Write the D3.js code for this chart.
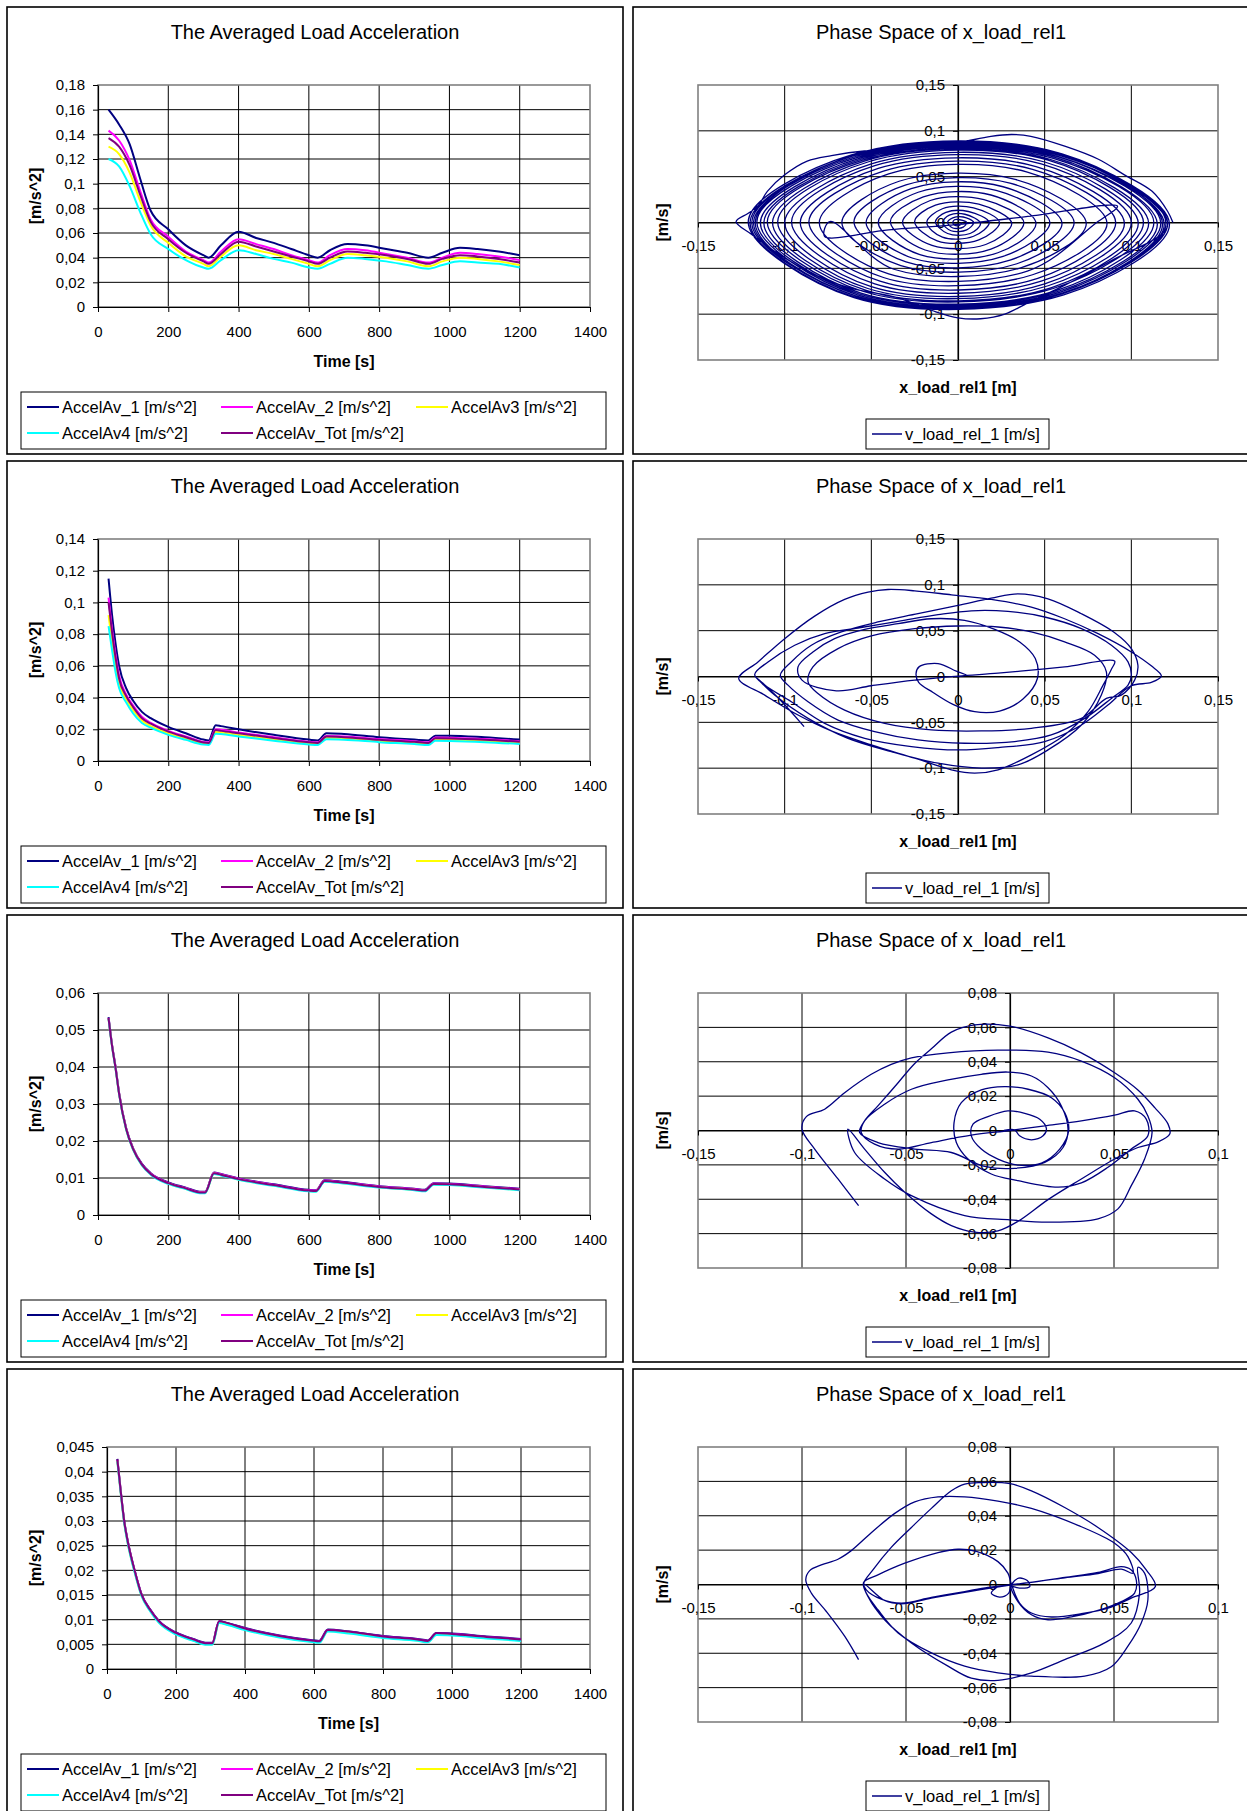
<!DOCTYPE html>
<meta charset="utf-8">
<script src="https://d3js.org/d3.v7.min.js"></script>
<style>
  body { margin: 0; background: #fff; }
  text { font-family: "Liberation Sans", Arial, sans-serif; fill: #000; }
</style>

<div id="my_dataviz"></div>
<script>

  // ---------- acceleration charts: names, colours, ticks ----------
  var seriesNames = ["AccelAv_1 [m/s^2]", "AccelAv_2 [m/s^2]", "AccelAv3 [m/s^2]", "AccelAv4 [m/s^2]", "AccelAv_Tot [m/s^2]"];
  var seriesColors = ["#000080", "#ff00ff", "#ffff00", "#00ffff", "#800080"];
  var timeTicks = [0, 200, 400, 600, 800, 1000, 1200, 1400];

  // chart 1
  var yTicks1 = [0, 0.02, 0.04, 0.06, 0.08, 0.1, 0.12, 0.14, 0.16, 0.18];
  var time1 = [30, 60, 90, 120, 150, 200, 250, 300, 315, 350, 400, 450, 500, 550, 600, 625, 660, 710, 760, 820, 880, 940, 980, 1030, 1080, 1140, 1200];
  var acc1_1 = [0.160, 0.148, 0.132, 0.104, 0.078, 0.063, 0.050, 0.042, 0.040, 0.050, 0.061, 0.056, 0.052, 0.047, 0.042, 0.040, 0.046, 0.051, 0.050, 0.047, 0.044, 0.040, 0.044, 0.048, 0.047, 0.045, 0.042];
  var acc1_2 = [0.143, 0.135, 0.119, 0.094, 0.071, 0.057, 0.045, 0.038, 0.036, 0.045, 0.055, 0.051, 0.047, 0.042, 0.038, 0.036, 0.042, 0.047, 0.046, 0.043, 0.040, 0.036, 0.040, 0.044, 0.043, 0.041, 0.038];
  var acc1_3 = [0.130, 0.124, 0.109, 0.086, 0.066, 0.052, 0.041, 0.035, 0.033, 0.041, 0.050, 0.046, 0.043, 0.039, 0.035, 0.033, 0.038, 0.043, 0.042, 0.040, 0.037, 0.033, 0.037, 0.040, 0.039, 0.037, 0.034];
  var acc1_4 = [0.120, 0.114, 0.098, 0.077, 0.059, 0.047, 0.038, 0.032, 0.031, 0.038, 0.046, 0.043, 0.039, 0.036, 0.032, 0.031, 0.035, 0.040, 0.039, 0.037, 0.034, 0.031, 0.034, 0.037, 0.036, 0.035, 0.032];
  var acc1_tot = [0.137, 0.130, 0.115, 0.091, 0.069, 0.055, 0.044, 0.037, 0.035, 0.043, 0.053, 0.049, 0.045, 0.041, 0.037, 0.035, 0.040, 0.045, 0.044, 0.042, 0.039, 0.035, 0.039, 0.042, 0.041, 0.039, 0.036];

  // chart 2
  var yTicks2 = [0, 0.02, 0.04, 0.06, 0.08, 0.1, 0.12, 0.14];
  var time2 = [30, 40, 50, 60, 80, 100, 125, 150, 200, 250, 300, 315, 335, 350, 400, 500, 600, 625, 650, 700, 800, 900, 940, 960, 1000, 1100, 1200];
  var acc2_1 = [0.115, 0.092, 0.074, 0.060, 0.046, 0.038, 0.031, 0.027, 0.0215, 0.0175, 0.0135, 0.013, 0.0225, 0.022, 0.020, 0.0165, 0.0135, 0.013, 0.0175, 0.017, 0.015, 0.0135, 0.013, 0.016, 0.016, 0.015, 0.0135];
  var acc2_2 = [0.103, 0.083, 0.067, 0.054, 0.042, 0.035, 0.028, 0.024, 0.019, 0.0155, 0.012, 0.0118, 0.020, 0.0197, 0.018, 0.015, 0.0122, 0.0118, 0.0158, 0.0155, 0.0138, 0.0125, 0.0118, 0.0148, 0.0147, 0.0138, 0.0125];
  var acc2_3 = [0.092, 0.075, 0.060, 0.049, 0.039, 0.032, 0.0255, 0.022, 0.0175, 0.014, 0.011, 0.0107, 0.0183, 0.018, 0.0165, 0.0136, 0.0111, 0.0107, 0.0145, 0.0142, 0.0126, 0.0114, 0.0107, 0.0135, 0.0134, 0.0126, 0.0114];
  var acc2_4 = [0.085, 0.070, 0.056, 0.046, 0.037, 0.030, 0.024, 0.021, 0.0165, 0.0133, 0.0104, 0.0101, 0.0172, 0.017, 0.0155, 0.0128, 0.0104, 0.0101, 0.0137, 0.0134, 0.0119, 0.0107, 0.0101, 0.0127, 0.0126, 0.0119, 0.0107];
  var acc2_tot = [0.100, 0.081, 0.065, 0.052, 0.041, 0.034, 0.027, 0.0235, 0.0185, 0.015, 0.0117, 0.0114, 0.0195, 0.019, 0.0175, 0.0145, 0.0118, 0.0114, 0.0154, 0.015, 0.0134, 0.0121, 0.0114, 0.0143, 0.0142, 0.0134, 0.0121];

  // chart 3
  var yTicks3 = [0, 0.01, 0.02, 0.03, 0.04, 0.05, 0.06];
  var time3 = [30, 40, 50, 60, 80, 100, 125, 150, 200, 250, 290, 305, 330, 350, 400, 500, 600, 620, 645, 700, 800, 900, 930, 955, 1000, 1100, 1200];
  var acc3_1 = [0.0535, 0.046, 0.040, 0.033, 0.0235, 0.018, 0.0138, 0.0113, 0.0088, 0.0074, 0.0063, 0.0063, 0.0115, 0.0111, 0.0099, 0.0083, 0.0068, 0.0067, 0.0094, 0.0089, 0.0078, 0.0071, 0.0068, 0.0086, 0.0085, 0.0078, 0.0071];
  var acc3_2 = [0.0533, 0.0458, 0.0398, 0.0329, 0.0234, 0.0179, 0.0137, 0.0112, 0.0087, 0.0073, 0.0062, 0.0062, 0.0114, 0.011, 0.0098, 0.0082, 0.0067, 0.0066, 0.0093, 0.0088, 0.0077, 0.007, 0.0067, 0.0085, 0.0084, 0.0077, 0.007];
  var acc3_3 = [0.0531, 0.0456, 0.0396, 0.0327, 0.0232, 0.0177, 0.0135, 0.011, 0.0085, 0.0071, 0.006, 0.006, 0.0112, 0.0108, 0.0096, 0.008, 0.0065, 0.0064, 0.0091, 0.0086, 0.0075, 0.0068, 0.0065, 0.0083, 0.0082, 0.0075, 0.0068];
  var acc3_4 = [0.053, 0.0455, 0.0395, 0.0326, 0.0231, 0.0176, 0.0134, 0.0109, 0.0084, 0.007, 0.0059, 0.0059, 0.0111, 0.0107, 0.0095, 0.0079, 0.0064, 0.0063, 0.009, 0.0085, 0.0074, 0.0067, 0.0064, 0.0082, 0.0081, 0.0074, 0.0067];
  var acc3_tot = [0.0532, 0.0457, 0.0397, 0.0328, 0.0233, 0.0178, 0.0136, 0.0111, 0.0086, 0.0072, 0.0061, 0.0061, 0.0113, 0.0109, 0.0097, 0.0081, 0.0066, 0.0065, 0.0092, 0.0087, 0.0076, 0.0069, 0.0066, 0.0084, 0.0083, 0.0076, 0.0069];

  // chart 4
  var yTicks4 = [0, 0.005, 0.01, 0.015, 0.02, 0.025, 0.03, 0.035, 0.04, 0.045];
  var time4 = [30, 40, 50, 60, 80, 100, 125, 150, 200, 250, 290, 305, 325, 350, 400, 500, 600, 615, 640, 700, 800, 900, 930, 955, 1000, 1100, 1200];
  var acc4_1 = [0.0426, 0.036, 0.030, 0.026, 0.020, 0.0152, 0.0121, 0.0098, 0.0074, 0.0061, 0.0053, 0.0053, 0.0097, 0.0093, 0.0083, 0.0068, 0.0058, 0.0057, 0.008, 0.0076, 0.0067, 0.0061, 0.0058, 0.0073, 0.0072, 0.0066, 0.0061];
  var acc4_2 = [0.0424, 0.0358, 0.0298, 0.0258, 0.0199, 0.0151, 0.012, 0.0097, 0.0073, 0.006, 0.0052, 0.0052, 0.0096, 0.0092, 0.0082, 0.0067, 0.0057, 0.0056, 0.0079, 0.0075, 0.0066, 0.006, 0.0057, 0.0072, 0.0071, 0.0065, 0.006];
  var acc4_3 = [0.0422, 0.0356, 0.0296, 0.0256, 0.0197, 0.0149, 0.0118, 0.0095, 0.0071, 0.0058, 0.005, 0.005, 0.0094, 0.009, 0.008, 0.0065, 0.0055, 0.0054, 0.0077, 0.0073, 0.0064, 0.0058, 0.0055, 0.007, 0.0069, 0.0063, 0.0058];
  var acc4_4 = [0.0421, 0.0355, 0.0295, 0.0255, 0.0196, 0.0148, 0.0117, 0.0094, 0.007, 0.0057, 0.0049, 0.0049, 0.0093, 0.0089, 0.0079, 0.0064, 0.0054, 0.0053, 0.0076, 0.0072, 0.0063, 0.0057, 0.0054, 0.0069, 0.0068, 0.0062, 0.0057];
  var acc4_tot = [0.0425, 0.0359, 0.0299, 0.0259, 0.02, 0.0151, 0.012, 0.0097, 0.0073, 0.006, 0.0052, 0.0052, 0.0097, 0.0093, 0.0082, 0.0067, 0.0057, 0.0056, 0.0079, 0.0076, 0.0066, 0.006, 0.0057, 0.0073, 0.0071, 0.0065, 0.006];

  // ---------- phase space charts: [x_load_rel1, v_load_rel_1] ----------
  var phaseTicksWide = [-0.15, -0.1, -0.05, 0, 0.05, 0.1, 0.15];
  var phaseXTicksNarrow = [-0.15, -0.1, -0.05, 0, 0.05, 0.1];
  var phaseYTicksNarrow = [-0.08, -0.06, -0.04, -0.02, 0, 0.02, 0.04, 0.06, 0.08];

  var phase1 = [
    [0.002,0],[0.001,-0.003],[-0.002,-0.003],[-0.003,0],[-0.002,0.003],[0.001,0.003],
    [0.005,0],[0.003,-0.005],[-0.003,-0.006],[-0.006,0],[-0.003,0.005],[0.003,0.006],
    [0.009,0],[0.005,-0.008],[-0.004,-0.009],[-0.009,0],[-0.005,0.008],[0.004,0.009],
    [0.013,-0.001],[0.007,-0.012],[-0.006,-0.012],[-0.013,0.001],[-0.007,0.011],[0.006,0.012],
    [0.018,0],[0.009,-0.015],[-0.009,-0.016],[-0.018,0],[-0.009,0.015],[0.009,0.016],
    [0.024,0],[0.012,-0.019],[-0.012,-0.02],[-0.025,0.001],[-0.013,0.019],[0.012,0.02],
    [0.031,-0.001],[0.016,-0.024],[-0.015,-0.025],[-0.032,0],[-0.016,0.024],[0.015,0.025],
    [0.038,0],[0.019,-0.029],[-0.019,-0.03],[-0.039,0.001],[-0.02,0.028],[0.019,0.03],
    [0.045,-0.001],[0.023,-0.033],[-0.022,-0.035],[-0.046,0],[-0.023,0.033],[0.022,0.035],
    [0.053,0],[0.026,-0.037],[-0.026,-0.039],[-0.053,0],[-0.027,0.037],[0.026,0.039],
    [0.06,-0.001],[0.03,-0.041],[-0.03,-0.043],[-0.06,0.001],[-0.03,0.041],[0.03,0.043],
    [0.067,0],[0.034,-0.045],[-0.033,-0.047],[-0.067,0],[-0.034,0.045],[0.033,0.047],
    [0.074,-0.001],[0.037,-0.049],[-0.037,-0.051],[-0.074,0.001],
    [-0.077,-0.015],[-0.04,-0.008],[0,-0.002],[0.042,0.007],[0.092,0.018],
    [0.08,0],[0.04,-0.053],[-0.04,-0.056],[-0.08,0],[-0.04,0.053],[0.04,0.055],
    [0.086,-0.001],[0.043,-0.057],[-0.043,-0.06],[-0.086,0.001],[-0.043,0.056],[0.043,0.058],
    [0.091,0],[0.046,-0.061],[-0.045,-0.064],[-0.091,0],[-0.046,0.059],[0.045,0.061],
    [0.096,-0.001],[0.048,-0.064],[-0.048,-0.067],[-0.096,0.001],[-0.048,0.062],[0.048,0.064],
    [0.1,0],[0.05,-0.067],[-0.05,-0.07],[-0.1,0],[-0.05,0.064],[0.05,0.066],
    [0.104,-0.001],[0.052,-0.069],[-0.052,-0.072],[-0.104,0.001],[-0.052,0.066],[0.052,0.068],
    [0.107,0],[0.054,-0.071],[-0.053,-0.074],[-0.107,0],[-0.054,0.067],[0.053,0.069],
    [0.11,-0.001],[0.055,-0.072],[-0.055,-0.075],[-0.11,0.001],[-0.055,0.068],[0.055,0.07],
    [0.113,0],[0.057,-0.074],[-0.056,-0.077],[-0.112,0],[-0.056,0.069],[0.056,0.071],
    [0.115,-0.002],[0.058,-0.075],[-0.057,-0.078],[-0.114,0],[-0.057,0.07],[0.057,0.072],
    [0.117,-0.001],[0.059,-0.076],[-0.058,-0.079],[-0.116,0.001],[-0.058,0.071],[0.058,0.072],
    [0.119,-0.002],[0.06,-0.077],[-0.059,-0.08],[-0.118,0],[-0.059,0.072],[0.059,0.073],
    [0.121,-0.001],[0.06,-0.078],[-0.06,-0.081],[-0.12,0],[-0.06,0.073],[0.06,0.074],
    [0.122,-0.002],[0.061,-0.079],[-0.06,-0.082],[-0.121,0.001],[-0.061,0.074],[0.06,0.075],
    [0.12,-0.001],[0.06,-0.077],[-0.059,-0.08],[-0.119,0],[-0.06,0.073],[0.059,0.074],
    [0.118,-0.002],[0.059,-0.078],[-0.058,-0.081],[-0.117,0],[-0.058,0.075],[0.058,0.076],
    [0.121,-0.002],[0.088,-0.042],[0.062,-0.068],[0.042,-0.086],[0.027,-0.1],[0.013,-0.105],
    [0,-0.104],[-0.015,-0.096],[-0.035,-0.082],[-0.063,-0.071],[-0.087,-0.053],[-0.106,-0.031],
    [-0.119,-0.013],[-0.128,0.001],[-0.121,0.01],[-0.115,0.019],[-0.11,0.034],[-0.1,0.052],
    [-0.087,0.067],[-0.073,0.073],[-0.054,0.078],[-0.027,0.08],[0,0.087],[0.019,0.094],
    [0.031,0.096],[0.042,0.094],[0.062,0.083],[0.081,0.069],[0.096,0.052],[0.112,0.034],
    [0.121,0.012],[0.124,0]
  ];

  var phase2 = [
    [0,0],[0.0048,0.0014],[-0.001,0.0058],[-0.0115,0.0141],[-0.0225,0.0105],[-0.0242,0.0033],
    [-0.0227,-0.0065],[-0.0144,-0.0174],[-0.0029,-0.0304],[0.0096,-0.0384],[0.024,-0.0377],[0.0375,-0.0246],
    [0.0458,-0.0022],[0.0446,0.0196],[0.0356,0.0377],[0.0212,0.0514],[0.0038,0.0612],[-0.0154,0.063],
    [-0.0346,0.0576],[-0.0538,0.0514],[-0.0712,0.0413],[-0.0837,0.0268],[-0.0923,0.0105],[-0.09,-0.004],
    [-0.0702,-0.0156],[-0.05,-0.0101],[-0.025,-0.004],[0,0.0004],[0.0231,0.0036],[0.0423,0.0069],
    [0.0615,0.0105],[0.0904,0.0167],[0.0885,0.008],[0.0837,-0.0094],[0.075,-0.0384],[0.0615,-0.0638],
    [0.0423,-0.0855],[0.0231,-0.1018],[0.0096,-0.1054],[-0.0038,-0.1018],[-0.025,-0.0891],[-0.05,-0.0746],
    [-0.0731,-0.0594],[-0.0923,-0.042],[-0.1115,-0.0203],[-0.1265,-0.0022],[-0.1154,0.0159],[-0.1,0.0413],
    [-0.0827,0.0659],[-0.0654,0.0841],[-0.0519,0.092],[-0.0404,0.0949],[-0.025,0.0935],[-0.0038,0.0891],
    [0.0192,0.0841],[0.0423,0.0757],[0.0615,0.063],[0.0808,0.0467],[0.1,0.0268],[0.1115,0.0116],
    [0.1173,0.0007],[0.1115,-0.0065],[0.1,-0.0101],[0.0865,-0.0312],[0.0712,-0.0529],[0.05,-0.071],
    [0.0231,-0.0775],[0,-0.0801],[-0.0269,-0.0764],[-0.0538,-0.0674],[-0.0769,-0.0511],[-0.0962,-0.0275],
    [-0.1115,-0.0094],[-0.1173,0.0022],[-0.1096,0.0159],[-0.0942,0.0341],[-0.0769,0.0467],[-0.0577,0.0529],
    [-0.0346,0.0601],[-0.0115,0.0674],[0.0077,0.0717],[0.0288,0.071],[0.05,0.0649],[0.0712,0.0522],
    [0.0885,0.0341],[0.0981,0.0159],[0.1,0.0014],[0.0981,-0.0094],[0.0885,-0.0239],[0.0731,-0.0457],
    [0.0538,-0.0638],[0.0327,-0.071],[0.0038,-0.0728],[-0.0231,-0.0692],[-0.0481,-0.0601],[-0.0692,-0.0475],
    [-0.0865,-0.0275],[-0.0981,-0.0094],[-0.1025,0.0014],[-0.0962,0.0159],[-0.0846,0.0341],[-0.0673,0.0486],
    [-0.0462,0.0595],[-0.0231,0.0685],[0,0.0775],[0.0192,0.0855],[0.0346,0.0902],[0.0519,0.0848],
    [0.0712,0.0685],[0.0904,0.0478],[0.1,0.0304],[0.1038,0.0123],[0.1019,-0.004],[0.0942,-0.0203],
    [0.0856,-0.0239],[0.0712,-0.0457],[0.0423,-0.0565],[0.0135,-0.0594],[-0.0154,-0.0583],[-0.0423,-0.0511],
    [-0.0654,-0.0366],[-0.0808,-0.0185],[-0.0865,-0.0058],[-0.0837,0.0105],[-0.0692,0.0304],[-0.05,0.0442],
    [-0.025,0.0522],[0,0.0551],[0.0231,0.054],[0.0423,0.0486],[0.0615,0.0377],[0.0788,0.0232],
    [0.0856,0.0051],[0.0827,-0.0203],[0.0712,-0.0529],[0.0519,-0.0801],[0.0346,-0.0964],[0.0135,-0.1],
    [-0.0115,-0.0946],[-0.0385,-0.0819],[-0.0635,-0.0674],[-0.0865,-0.0457],[-0.1058,-0.0203],[-0.1173,0.0007],
    [-0.1038,-0.0232],[-0.0888,-0.0547]
  ];

  var phase3 = [
    [-0.0029,0],[0.0022,0.0004],[0.0046,-0.0031],[0.0103,-0.0054],[0.0159,-0.0031],[0.0175,0.0012],
    [0.0143,0.0066],[0.0071,0.01],[-0.001,0.0114],[-0.0106,0.0081],[-0.0178,0.0037],[-0.0186,-0.0031],
    [-0.0138,-0.0108],[-0.0058,-0.0166],[0.0038,-0.0201],[0.0151,-0.0189],[0.0239,-0.0108],[0.0282,-0.0002],
    [0.0263,0.0104],[0.0199,0.0191],[0.0087,0.024],[-0.0026,0.0255],[-0.0138,0.0236],[-0.0234,0.0162],
    [-0.0269,0.0046],[-0.0258,-0.007],[-0.0202,-0.0166],[-0.009,-0.0253],[0.0038,-0.0292],[0.0231,-0.033],
    [0.0343,-0.0305],[0.0471,-0.0214],[0.0583,-0.0108],[0.0663,-0.0031],[0.0655,0.0066],[0.0599,0.0114],
    [0.0503,0.0089],[0.0343,0.0056],[0.0167,0.0027],[0,0],[-0.0186,-0.0027],[-0.0378,-0.007],
    [-0.0538,-0.0108],[-0.0651,-0.0079],[-0.0715,-0.0012],[-0.0699,0.0056],[-0.0603,0.0153],[-0.0474,0.024],
    [-0.0298,0.0294],[-0.0138,0.0327],[-0.001,0.034],[0.0103,0.0317],[0.0183,0.0249],[0.0247,0.0143],
    [0.0279,0.0008],[0.0255,-0.0099],[0.0167,-0.0186],[0.0022,-0.022],[-0.0122,-0.0209],[-0.0282,-0.0128],
    [-0.0458,-0.0108],[-0.0635,-0.007],[-0.0723,-0.0012],
    [-0.0699,0.0056],[-0.0635,0.0143],[-0.0538,0.0278],[-0.0458,0.039],[-0.0378,0.0475],[-0.0282,0.0572],
    [-0.017,0.0614],[0,0.0607],[0.0183,0.0539],[0.0343,0.0452],[0.0503,0.0336],[0.0615,0.0236],
    [0.0696,0.0133],[0.076,0.0037],[0.0768,-0.0021],[0.0712,-0.0066],[0.0615,-0.0099],[0.0503,-0.0166],
    [0.0343,-0.0282],[0.0183,-0.0402],[0.0038,-0.0529],[-0.0058,-0.0584],[-0.017,-0.0591],[-0.0282,-0.0553],
    [-0.0378,-0.0485],[-0.0506,-0.0359],[-0.0603,-0.0243],[-0.0699,-0.0108],[-0.0779,0.0008],
    [-0.0747,-0.0128],[-0.0603,-0.0282],[-0.0474,-0.0379],[-0.0218,-0.0495],[0,-0.052],[0.0183,-0.0533],
    [0.0423,-0.0514],[0.0519,-0.0456],[0.0583,-0.0321],[0.0647,-0.0166],[0.0683,-0.0012],[0.0663,0.0085],
    [0.0615,0.0182],[0.0503,0.0307],[0.0343,0.0404],[0.0183,0.0456],[-0.0058,0.0468],[-0.0298,0.0452],
    [-0.0474,0.0423],[-0.0571,0.0385],[-0.0667,0.0327],[-0.0795,0.022],[-0.0891,0.0124],[-0.0979,0.0081],
    [-0.1,0.0008],[-0.0939,-0.0108],[-0.0827,-0.0282],[-0.0728,-0.0437]
  ];

  var phase4 = [
    [-0.0058,-0.0012],[-0.009,-0.005],[-0.005,-0.0073],[-0.0006,-0.005],[0.0006,-0.0002],[0.0042,0.0037],
    [0.0083,0.0023],[0.0095,-0.0012],[0.0046,-0.0021],[0.0006,-0.0012],[0.0038,-0.0099],[0.0103,-0.0176],
    [0.0183,-0.0205],[0.0295,-0.0189],[0.0423,-0.0151],[0.0535,-0.0099],[0.0599,-0.005],[0.0607,0.0027],
    [0.0583,0.0085],[0.0535,0.0104],[0.0423,0.007],[0.0263,0.0041],[0.0103,0.0012],[0,-0.0002],
    [-0.0106,-0.0017],[-0.0218,-0.0041],[-0.0378,-0.0075],[-0.0522,-0.0108],[-0.0619,-0.0085],[-0.0691,-0.0031],
    [-0.0704,0.0012],[-0.0635,0.0056],[-0.0506,0.0124],[-0.0346,0.0186],[-0.025,0.0205],[-0.0162,0.0193],
    [-0.0058,0.0133],[-0.001,0.0066],[0.0006,0.0004],[0.0046,-0.0108],[0.0103,-0.0166],[0.0199,-0.0189],
    [0.0343,-0.017],[0.0487,-0.0131],[0.0583,-0.0079],[0.0699,-0.0012],[0.0655,0.0085],[0.0583,0.0186],
    [0.0423,0.0332],[0.0263,0.0448],[0.0103,0.0545],[0,0.0587],[-0.0138,0.0593],[-0.0218,0.0584],
    [-0.0282,0.0545],[-0.0378,0.0443],[-0.0474,0.0332],[-0.0571,0.0216],[-0.0659,0.0085],[-0.0704,0.0004],
    [-0.0691,-0.005],[-0.0635,-0.0147],[-0.0538,-0.0282],[-0.0378,-0.0398],[-0.0218,-0.0475],[-0.0058,-0.0514],
    [0.0103,-0.0533],[0.0359,-0.0533],[0.0487,-0.0479],[0.0567,-0.0359],[0.0631,-0.0224],[0.0663,-0.0089],
    [0.0647,0.0066],[0.0615,0.01],[0.0623,-0.005],[0.0583,-0.0224],[0.0455,-0.034],[0.0263,-0.0437],
    [0.0103,-0.0514],[-0.0058,-0.0558],[-0.0186,-0.0545],[-0.0298,-0.0475],[-0.0474,-0.034],[-0.0603,-0.0205],
    [-0.0683,-0.007],[-0.0704,0.0004],[-0.0603,-0.0093],[-0.0522,-0.0112],[-0.0378,-0.0079],[-0.0218,-0.0046],
    [0,-0.0004],[0.0263,0.0039],[0.0423,0.0064],[0.0535,0.0089],[0.0591,0.0066],[0.0567,0.0162],
    [0.0503,0.024],[0.0343,0.0336],[0.0103,0.0443],[-0.0058,0.0485],[-0.0218,0.051],[-0.0346,0.051],
    [-0.0458,0.0481],[-0.0554,0.0414],[-0.0667,0.0301],[-0.0763,0.0197],[-0.0827,0.0147],[-0.0907,0.0114],
    [-0.0963,0.0081],[-0.0982,0.0027],[-0.0955,-0.005],[-0.0883,-0.0157],[-0.0795,-0.0301],[-0.0728,-0.0437]
  ];

  // ---------- layout ----------
  var rowTop = [7, 461, 915, 1369];
  var leftX = 7, rightX = 633, panelW = 616, panelH = 447;
  var fmt = function (v) { return String(v).replace(".", ","); };

  var svg = d3.select("#my_dataviz")
    .append("svg")
    .attr("width", 1247)
    .attr("height", 1811);

  function panel(x0, y0) {
    var g = svg.append("g").attr("transform", "translate(" + x0 + "," + y0 + ")");
    g.append("rect")
      .attr("x", 0).attr("y", 0)
      .attr("width", panelW).attr("height", panelH)
      .attr("fill", "#fff").attr("stroke", "#000").attr("stroke-width", 1.6);
    return g;
  }

  function styleAxis(a) {
    a.select(".domain").attr("stroke", "#000").attr("stroke-width", 1.2);
    a.selectAll(".tick line").attr("stroke", "#000");
    a.selectAll("text").attr("font-size", 15).attr("font-family", "Liberation Sans, Arial, sans-serif").attr("fill", "#000");
    a.attr("font-size", null).attr("font-family", null);
  }

  function drawAccel(g, t, series, yTicks, plotLeft) {
    var top = 78, bottom = 300, right = 583;
    var x = d3.scaleLinear().domain([0, 1400]).range([plotLeft, right]);
    var y = d3.scaleLinear().domain([0, yTicks[yTicks.length - 1]]).range([bottom, top]);

    g.append("text").attr("x", panelW / 2).attr("y", 32).attr("text-anchor", "middle")
      .attr("font-size", 20).text("The Averaged Load Acceleration");

    // gridlines
    g.selectAll(".hgrid").data(yTicks.slice(1, -1)).enter().append("line")
      .attr("x1", plotLeft).attr("x2", right)
      .attr("y1", function (d) { return y(d); }).attr("y2", function (d) { return y(d); })
      .attr("stroke", "#000").attr("stroke-width", 1);
    g.selectAll(".vgrid").data(timeTicks.slice(1, -1)).enter().append("line")
      .attr("y1", top).attr("y2", bottom)
      .attr("x1", function (d) { return x(d); }).attr("x2", function (d) { return x(d); })
      .attr("stroke", "#000").attr("stroke-width", 1);
    g.append("rect").attr("x", plotLeft).attr("y", top)
      .attr("width", right - plotLeft).attr("height", bottom - top)
      .attr("fill", "none").attr("stroke", "#808080").attr("stroke-width", 1.6);

    var ax = g.append("g").attr("transform", "translate(0," + bottom + ")")
      .call(d3.axisBottom(x).tickValues(timeTicks).tickSizeInner(5).tickSizeOuter(0).tickPadding(14).tickFormat(fmt));
    styleAxis(ax);
    var ay = g.append("g").attr("transform", "translate(" + plotLeft + ",0)")
      .call(d3.axisLeft(y).tickValues(yTicks).tickSizeInner(5).tickSizeOuter(0).tickPadding(8).tickFormat(fmt));
    styleAxis(ay);

    // series lines
    var line = d3.line()
      .x(function (d) { return x(d[0]); })
      .y(function (d) { return y(d[1]); })
      .curve(d3.curveMonotoneX);
    series.forEach(function (vals, i) {
      g.append("path")
        .datum(t.map(function (tt, k) { return [tt, vals[k]]; }))
        .attr("fill", "none").attr("stroke", seriesColors[i]).attr("stroke-width", 2)
        .attr("d", line);
    });

    g.append("text").attr("x", (plotLeft + right) / 2).attr("y", 360).attr("text-anchor", "middle")
      .attr("font-size", 16).attr("font-weight", "bold").text("Time [s]");
    g.append("text").attr("transform", "translate(28," + (top + bottom) / 2 + ") rotate(-90)")
      .attr("text-anchor", "middle").attr("dy", "0.35em")
      .attr("font-size", 16).attr("font-weight", "bold").text("[m/s^2]");

    // legend
    g.append("rect").attr("x", 14).attr("y", 385).attr("width", 585).attr("height", 57)
      .attr("fill", "#fff").attr("stroke", "#000").attr("stroke-width", 1);
    var cols = [20, 214, 409], rows = [400, 426];
    var slots = [[0, 0], [1, 0], [2, 0], [0, 1], [1, 1]];
    seriesNames.forEach(function (name, i) {
      var cx = cols[slots[i][0]], cy = rows[slots[i][1]];
      g.append("line").attr("x1", cx).attr("x2", cx + 32).attr("y1", cy).attr("y2", cy)
        .attr("stroke", seriesColors[i]).attr("stroke-width", 2);
      g.append("text").attr("x", cx + 35).attr("y", cy).attr("dy", "0.35em")
        .attr("font-size", 16.5).text(name);
    });
  }

  function drawPhase(g, pts, xTicks, yTicks) {
    var left = 65, right = 585, top = 78, bottom = 353;
    var x = d3.scaleLinear().domain([xTicks[0], xTicks[xTicks.length - 1]]).range([left, right]);
    var y = d3.scaleLinear().domain([yTicks[0], yTicks[yTicks.length - 1]]).range([bottom, top]);

    g.append("text").attr("x", panelW / 2).attr("y", 32).attr("text-anchor", "middle")
      .attr("font-size", 20).text("Phase Space of x_load_rel1");

    g.selectAll(".hgrid").data(yTicks.slice(1, -1)).enter().append("line")
      .attr("x1", left).attr("x2", right)
      .attr("y1", function (d) { return y(d); }).attr("y2", function (d) { return y(d); })
      .attr("stroke", "#000").attr("stroke-width", 1);
    g.selectAll(".vgrid").data(xTicks.slice(1, -1)).enter().append("line")
      .attr("y1", top).attr("y2", bottom)
      .attr("x1", function (d) { return x(d); }).attr("x2", function (d) { return x(d); })
      .attr("stroke", "#000").attr("stroke-width", 1);
    g.append("rect").attr("x", left).attr("y", top)
      .attr("width", right - left).attr("height", bottom - top)
      .attr("fill", "none").attr("stroke", "#808080").attr("stroke-width", 1.6);

    var ax = g.append("g").attr("transform", "translate(0," + y(0) + ")")
      .call(d3.axisBottom(x).tickValues(xTicks).tickSizeInner(5).tickSizeOuter(0).tickPadding(13).tickFormat(fmt));
    styleAxis(ax);
    var ay = g.append("g").attr("transform", "translate(" + x(0) + ",0)")
      .call(d3.axisLeft(y).tickValues(yTicks).tickSizeInner(5).tickSizeOuter(0).tickPadding(8).tickFormat(fmt));
    styleAxis(ay);

    var line = d3.line()
      .x(function (d) { return x(d[0]); })
      .y(function (d) { return y(d[1]); })
      .curve(d3.curveCatmullRom);
    g.append("path").datum(pts)
      .attr("fill", "none").attr("stroke", "#000080").attr("stroke-width", 1.3)
      .attr("d", line);

    g.append("text").attr("x", (left + right) / 2).attr("y", 386).attr("text-anchor", "middle")
      .attr("font-size", 16).attr("font-weight", "bold").text("x_load_rel1 [m]");
    g.append("text").attr("transform", "translate(29," + (top + bottom) / 2 + ") rotate(-90)")
      .attr("text-anchor", "middle").attr("dy", "0.35em")
      .attr("font-size", 16).attr("font-weight", "bold").text("[m/s]");

    g.append("rect").attr("x", 233).attr("y", 412).attr("width", 183).attr("height", 30)
      .attr("fill", "#fff").attr("stroke", "#000").attr("stroke-width", 1);
    g.append("line").attr("x1", 239).attr("x2", 269).attr("y1", 427).attr("y2", 427)
      .attr("stroke", "#000080").attr("stroke-width", 1.5);
    g.append("text").attr("x", 272).attr("y", 427).attr("dy", "0.35em")
      .attr("font-size", 16.5).text("v_load_rel_1 [m/s]");
  }

  // ---------- draw the eight panels ----------
  drawAccel(panel(leftX, rowTop[0]), time1, [acc1_1, acc1_2, acc1_3, acc1_4, acc1_tot], yTicks1, 91);
  drawAccel(panel(leftX, rowTop[1]), time2, [acc2_1, acc2_2, acc2_3, acc2_4, acc2_tot], yTicks2, 91);
  drawAccel(panel(leftX, rowTop[2]), time3, [acc3_1, acc3_2, acc3_3, acc3_4, acc3_tot], yTicks3, 91);
  drawAccel(panel(leftX, rowTop[3]), time4, [acc4_1, acc4_2, acc4_3, acc4_4, acc4_tot], yTicks4, 100);

  drawPhase(panel(rightX, rowTop[0]), phase1, phaseTicksWide, phaseTicksWide);
  drawPhase(panel(rightX, rowTop[1]), phase2, phaseTicksWide, phaseTicksWide);
  drawPhase(panel(rightX, rowTop[2]), phase3, phaseXTicksNarrow, phaseYTicksNarrow);
  drawPhase(panel(rightX, rowTop[3]), phase4, phaseXTicksNarrow, phaseYTicksNarrow);

</script>
